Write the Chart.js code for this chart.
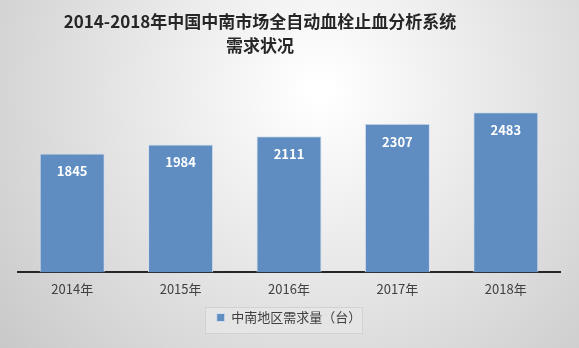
<!DOCTYPE html>
<html>
<head>
<meta charset="utf-8">
<script src="https://cdn.jsdelivr.net/npm/chart.js@4"></script>
<style>
  html, body { margin: 0; padding: 0; }
  #wrap { width: 579px; height: 348px; }
</style>
</head>
<body>
<div id="wrap"><canvas id="demandChart" width="579" height="348"></canvas></div>
<script>
const years = ["2014年", "2015年", "2016年", "2017年", "2018年"];
const demand = [1845, 1984, 2111, 2307, 2483];
const seriesName = "中南地区需求量（台）";
const titleLines = ["2014-2018年中国中南市场全自动血栓止血分析系统", "需求状况"];

const FONT = '"Noto Sans CJK SC", "Noto Sans", sans-serif';

// soft grey backdrop, lighter toward the upper middle
const backdrop = {
  id: "backdrop",
  beforeDraw(chart) {
    const c = chart.ctx;
    const g = c.createRadialGradient(320, 90, 10, 320, 90, 430);
    g.addColorStop(0, "#ffffff");
    g.addColorStop(1, "#c6c6c6");
    c.save();
    c.fillStyle = g;
    c.fillRect(0, 0, chart.width, chart.height);
    c.restore();
  }
};

// two-line heading, sitting a little left of centre
const heading = {
  id: "heading",
  afterDraw(chart) {
    const c = chart.ctx;
    c.save();
    c.fillStyle = "#262626";
    c.font = "bold 17px " + FONT;
    c.textAlign = "center";
    c.textBaseline = "middle";
    c.fillText(titleLines[0], 260, 22);
    c.fillText(titleLines[1], 260, 46);
    c.restore();
  }
};

// box behind the legend
const legendBox = {
  id: "legendBox",
  beforeDraw(chart) {
    const c = chart.ctx;
    c.save();
    c.fillStyle = "rgba(230,230,230,0.9)";
    c.strokeStyle = "rgba(210,210,210,1)";
    c.lineWidth = 1;
    c.fillRect(205.5, 307.5, 157, 26);
    c.strokeRect(205.5, 307.5, 157, 26);
    c.restore();
  }
};

// white value labels inside the top of each bar
const barValues = {
  id: "barValues",
  afterDatasetsDraw(chart) {
    const c = chart.ctx;
    const meta = chart.getDatasetMeta(0);
    c.save();
    c.fillStyle = "#ffffff";
    c.font = "bold 13px " + FONT;
    c.textAlign = "center";
    c.textBaseline = "middle";
    meta.data.forEach((bar, i) => {
      c.fillText(String(demand[i]), bar.x, bar.y + 18);
    });
    c.restore();
  }
};

new Chart(document.getElementById("demandChart"), {
  type: "bar",
  data: {
    labels: years,
    datasets: [{
      label: seriesName,
      data: demand,
      backgroundColor: "#5f8dc2",
      borderColor: "#d3deec",
      borderWidth: 1,
      categoryPercentage: 1,
      barPercentage: 0.6
    }]
  },
  options: {
    responsive: false,
    animation: false,
    layout: { padding: { left: 18, right: 19, top: 79, bottom: 14 } },
    plugins: {
      title: { display: false },
      legend: {
        position: "bottom",
        labels: {
          color: "#404040",
          font: { family: FONT, size: 13 },
          boxWidth: 8,
          boxHeight: 8,
          padding: 5
        }
      },
      tooltip: { enabled: false }
    },
    scales: {
      x: {
        grid: { display: false },
        border: { display: true, color: "#262626", width: 2 },
        ticks: { color: "#404040", font: { family: FONT, size: 13 }, padding: 1 },
        afterFit(scale) { scale.height += 8; }
      },
      y: {
        display: false,
        min: 0,
        max: 3000
      }
    }
  },
  plugins: [backdrop, legendBox, barValues, heading]
});
</script>
</body>
</html>
